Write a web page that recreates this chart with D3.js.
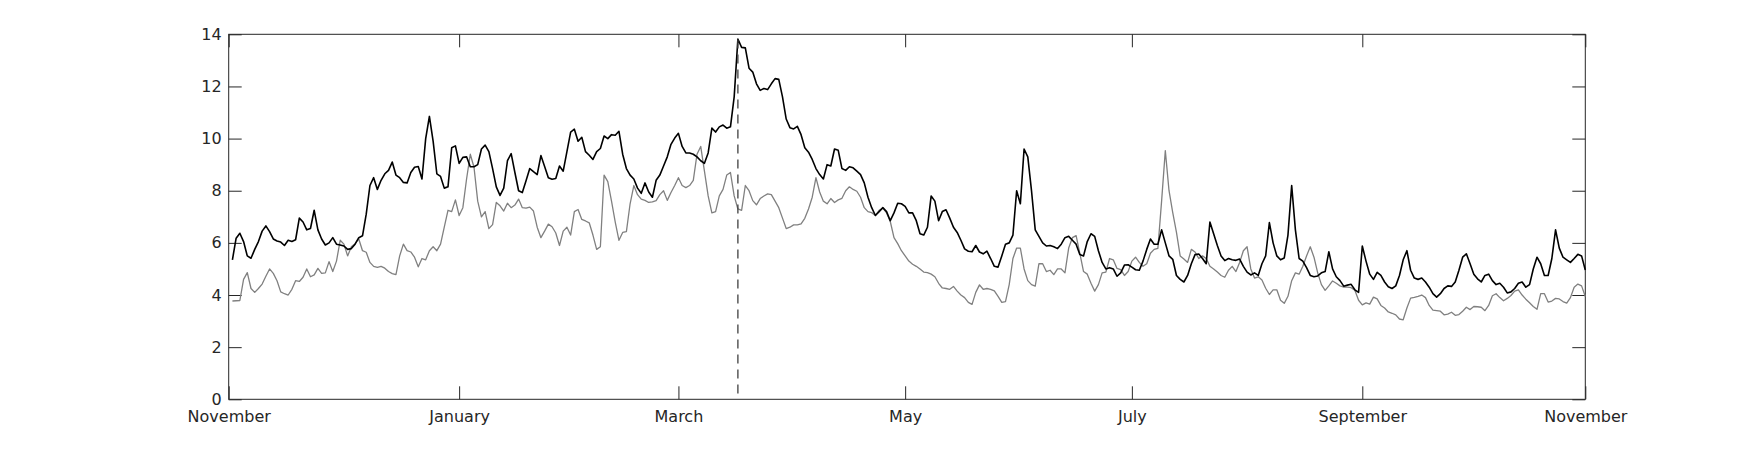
<!DOCTYPE html>
<html>
<head>
<meta charset="utf-8">
<script src="https://cdn.jsdelivr.net/npm/d3@7"></script>
<style>
  body { margin: 0; background: #fff; }
  text { font-family: "DejaVu Sans", sans-serif; }
</style>
</head>
<body>
<div id="chart"></div>
<script>
// daily values, index 1 = 1 November ... 365 = 31 October
var blackSeries = [
  5.35, 6.18, 6.37, 6.05, 5.5, 5.41, 5.75, 6.05, 6.45, 6.65,
  6.43, 6.15, 6.07, 6.03, 5.9, 6.1, 6.05, 6.12, 6.95, 6.8,
  6.5, 6.55, 7.25, 6.5, 6.15, 5.92, 6.0, 6.2, 5.95, 5.92,
  5.88, 5.75, 5.78, 5.95, 6.2, 6.27, 7.1, 8.2, 8.5, 8.05,
  8.4, 8.65, 8.78, 9.1, 8.6, 8.5, 8.32, 8.3, 8.7, 8.9,
  8.93, 8.45, 10.0, 10.85, 9.9, 8.65, 8.55, 8.1, 8.15, 9.65,
  9.72, 9.05, 9.28, 9.3, 8.92, 8.92, 9.0, 9.6, 9.75, 9.5,
  8.85, 8.15, 7.82, 8.1, 9.15, 9.42, 8.7, 8.0, 7.93, 8.38,
  8.85, 8.73, 8.62, 9.35, 8.93, 8.5, 8.44, 8.47, 8.95, 8.75,
  9.5, 10.25, 10.36, 9.9, 10.05, 9.5, 9.36, 9.2, 9.5, 9.62,
  10.1, 10.0, 10.15, 10.13, 10.28, 9.4, 8.85, 8.6, 8.45, 8.1,
  7.9, 8.3, 7.95, 7.75, 8.4, 8.6, 8.95, 9.3, 9.78, 10.02,
  10.2, 9.7, 9.45, 9.45, 9.4, 9.3, 9.15, 9.05, 9.45, 10.4,
  10.25, 10.45, 10.52, 10.4, 10.45, 11.6, 13.82, 13.5, 13.48, 12.7,
  12.55, 12.1, 11.85, 11.92, 11.88, 12.1, 12.3, 12.27, 11.6, 10.75,
  10.42, 10.37, 10.47, 10.15, 9.65, 9.48, 9.2, 8.85, 8.62, 8.45,
  9.0, 8.95, 9.6, 9.55, 8.85, 8.78, 8.92, 8.88, 8.75, 8.62,
  8.3, 7.75, 7.35, 7.05, 7.2, 7.35, 7.2, 6.85, 7.15, 7.52,
  7.5, 7.4, 7.15, 7.15, 6.85, 6.35, 6.3, 6.6, 7.8, 7.6,
  6.85, 7.2, 7.27, 6.95, 6.6, 6.4, 6.1, 5.77, 5.68, 5.66,
  5.9, 5.65, 5.58, 5.68, 5.4, 5.1, 5.07, 5.5, 5.95, 6.0,
  6.3, 8.0, 7.5, 9.6, 9.3, 8.0, 6.5, 6.25, 6.0, 5.88,
  5.9, 5.85, 5.78, 5.95, 6.2, 6.25, 6.1, 5.95, 5.55, 5.5,
  6.05, 6.35, 6.25, 5.7, 5.25, 5.0, 5.05, 5.0, 4.72, 4.85,
  5.15, 5.16, 5.07, 4.97, 4.95, 5.3, 5.75, 6.15, 5.95, 5.95,
  6.5, 6.0, 5.5, 5.37, 4.75, 4.6, 4.5, 4.75, 5.2, 5.55,
  5.57, 5.4, 5.2, 6.8, 6.35, 5.9, 5.5, 5.32, 5.4, 5.35,
  5.33, 5.38, 5.1, 4.88, 4.77, 4.85, 4.75, 5.2, 5.5, 6.78,
  6.0, 5.5, 5.35, 5.42, 6.3, 8.2, 6.5, 5.4, 5.3, 5.05,
  4.75, 4.7, 4.73, 4.85, 4.9, 5.66, 5.0, 4.7, 4.55, 4.34,
  4.38, 4.41, 4.2, 4.1, 5.88, 5.3, 4.8, 4.6, 4.87, 4.75,
  4.5, 4.32, 4.25, 4.35, 4.75, 5.35, 5.7, 4.95, 4.65, 4.6,
  4.65, 4.5, 4.3, 4.05, 3.92, 4.05, 4.25, 4.35, 4.33, 4.5,
  4.95, 5.45, 5.58, 5.2, 4.8, 4.62, 4.5, 4.75, 4.8, 4.55,
  4.4, 4.45, 4.3, 4.08, 4.12, 4.25, 4.45, 4.5, 4.3, 4.4,
  5.0, 5.45, 5.2, 4.75, 4.75, 5.4, 6.5, 5.8, 5.45, 5.35,
  5.25, 5.4, 5.56, 5.5, 4.96
];

var graySeries = [
  3.77, 3.78, 3.79, 4.6, 4.86, 4.25, 4.1, 4.25, 4.42, 4.72,
  5.0, 4.83, 4.55, 4.12, 4.05, 4.0, 4.22, 4.55, 4.52, 4.68,
  5.0, 4.7, 4.77, 5.02, 4.83, 4.85, 5.28, 4.9, 5.3, 6.1,
  5.95, 5.5, 5.85, 5.97, 6.15, 5.7, 5.64, 5.25, 5.1, 5.06,
  5.1, 5.03, 4.9, 4.82, 4.78, 5.5, 5.95, 5.7, 5.65, 5.45,
  5.08, 5.4, 5.35, 5.7, 5.85, 5.7, 5.95, 6.6, 7.25, 7.2,
  7.65, 7.05, 7.35, 8.45, 9.4, 8.9, 7.6, 7.0, 7.2, 6.55,
  6.7, 7.55, 7.42, 7.22, 7.52, 7.35, 7.45, 7.68, 7.35, 7.33,
  7.37, 7.22, 6.6, 6.2, 6.45, 6.72, 6.62, 6.38, 5.9, 6.45,
  6.6, 6.3, 7.2, 7.28, 6.9, 6.84, 6.77, 6.3, 5.75, 5.85,
  8.6, 8.35, 7.6, 6.8, 6.1, 6.4, 6.43, 7.5, 8.2, 7.85,
  7.68, 7.63, 7.55, 7.57, 7.62, 7.85, 8.0, 7.63, 7.93, 8.2,
  8.5, 8.2, 8.12, 8.2, 8.4, 9.4, 9.7, 8.75, 7.8, 7.15,
  7.2, 7.8, 8.05, 8.6, 8.7, 7.8, 7.3, 7.25, 8.2, 8.0,
  7.62, 7.46, 7.7, 7.8, 7.88, 7.85, 7.6, 7.35, 6.95, 6.55,
  6.6, 6.69, 6.69, 6.73, 6.94, 7.3, 7.75, 8.5, 7.95, 7.6,
  7.5, 7.7, 7.55, 7.65, 7.71, 8.0, 8.15, 8.05, 7.98, 7.75,
  7.35, 7.2, 7.16, 7.05, 7.25, 7.33, 7.15, 6.82, 6.2, 5.97,
  5.7, 5.5, 5.3, 5.18, 5.1, 5.0, 4.88, 4.86, 4.8, 4.7,
  4.45, 4.27, 4.25, 4.22, 4.33, 4.15, 4.0, 3.9, 3.72, 3.64,
  4.1, 4.39, 4.22, 4.25, 4.22, 4.16, 3.95, 3.72, 3.75, 4.4,
  5.4, 5.8, 5.8, 5.0, 4.55, 4.4, 4.34, 5.2, 5.2, 4.9,
  4.95, 4.78, 5.0, 5.0, 4.85, 5.8, 6.2, 6.28, 5.6, 4.9,
  4.8, 4.45, 4.15, 4.4, 4.85, 4.88, 5.4, 5.35, 5.02, 4.97,
  4.75, 4.9, 5.3, 5.45, 5.25, 5.1, 5.2, 5.6, 5.75, 5.79,
  7.6, 9.54, 8.0, 7.16, 6.4, 5.5, 5.38, 5.25, 5.75, 5.65,
  5.4, 5.5, 5.4, 5.1, 5.0, 4.88, 4.75, 4.68, 4.95, 5.1,
  4.9, 5.25, 5.7, 5.85, 5.0, 4.65, 4.7, 4.58, 4.26, 4.02,
  4.2, 4.2, 3.8, 3.68, 3.95, 4.55, 4.85, 4.8, 5.1, 5.5,
  5.85, 5.45, 4.85, 4.4, 4.18, 4.35, 4.54, 4.45, 4.35, 4.3,
  4.3, 4.28, 4.18, 3.8, 3.62, 3.7, 3.65, 3.92, 3.85, 3.6,
  3.5, 3.35, 3.3, 3.24, 3.08, 3.05, 3.5, 3.88, 3.91, 3.95,
  4.0, 3.9, 3.6, 3.42, 3.4, 3.38, 3.24, 3.27, 3.34, 3.22,
  3.25, 3.38, 3.53, 3.44, 3.56, 3.55, 3.53, 3.4, 3.6, 3.97,
  4.05, 3.9, 3.78, 3.87, 3.98, 4.15, 4.2, 4.0, 3.84, 3.7,
  3.56, 3.45, 4.05, 4.05, 3.73, 3.77, 3.87, 3.85, 3.75, 3.69,
  3.9, 4.3, 4.42, 4.35, 3.94
];

var monthTicks = [0, 62, 121, 182, 243, 305, 365];
var monthLabels = ["November", "January", "March", "May", "July", "September", "November"];
var yTicks = [0, 2, 4, 6, 8, 10, 12, 14];
var markerDay = 137;

var w = 1753;
var h = 450;
var plotLeft = 228.7, plotRight = 1585.3, plotTop = 34.3, plotBottom = 399.3;
var ink = "#262626";

var svg = d3.select("#chart").append("svg").attr("width", w).attr("height", h);

var x = d3.scaleLinear().domain([0, 365]).range([plotLeft, plotRight]);
var y = d3.scaleLinear().domain([0, 14]).range([plotBottom, plotTop]);

var line = d3.line()
  .x(function (d, i) { return x(i + 1); })
  .y(function (d) { return y(d); });

// axes: ticks pointing inward, mirrored on top and right
var xBottom = d3.axisBottom(x).tickValues(monthTicks)
  .tickFormat(function (d, i) { return monthLabels[i]; })
  .tickSizeInner(-13).tickSizeOuter(0).tickPadding(11);
var xTop = d3.axisTop(x).tickValues(monthTicks).tickFormat("")
  .tickSizeInner(-13).tickSizeOuter(0);
var yLeft = d3.axisLeft(y).tickValues(yTicks).tickFormat(d3.format("d"))
  .tickSizeInner(-13).tickSizeOuter(0).tickPadding(7);
var yRight = d3.axisRight(y).tickValues(yTicks).tickFormat("")
  .tickSizeInner(-13).tickSizeOuter(0);

function styleAxis(g) {
  g.select(".domain").remove();
  g.selectAll(".tick line").attr("stroke", ink).attr("stroke-width", 1);
  g.selectAll(".tick text")
    .attr("fill", ink)
    .attr("font-family", "DejaVu Sans, sans-serif")
    .attr("font-size", "16px");
}

svg.append("g").attr("transform", "translate(0," + plotBottom + ")").call(xBottom).call(styleAxis);
svg.append("g").attr("transform", "translate(0," + plotTop + ")").call(xTop).call(styleAxis);
svg.append("g").attr("transform", "translate(" + plotLeft + ",0)").call(yLeft).call(styleAxis);
svg.append("g").attr("transform", "translate(" + plotRight + ",0)").call(yRight).call(styleAxis);

svg.append("rect")
  .attr("x", plotLeft)
  .attr("y", plotTop)
  .attr("width", plotRight - plotLeft)
  .attr("height", plotBottom - plotTop)
  .attr("fill", "none")
  .attr("stroke", ink)
  .attr("stroke-width", 1);

svg.append("path")
  .datum(graySeries)
  .attr("d", line)
  .attr("fill", "none")
  .attr("stroke", "#808080")
  .attr("stroke-width", 1.3)
  .attr("stroke-linejoin", "round");

svg.append("path")
  .datum(blackSeries)
  .attr("d", line)
  .attr("fill", "none")
  .attr("stroke", "#000")
  .attr("stroke-width", 1.6)
  .attr("stroke-linejoin", "round");

svg.append("line")
  .attr("x1", x(markerDay))
  .attr("x2", x(markerDay))
  .attr("y1", y(13.8))
  .attr("y2", y(0))
  .attr("stroke", "#404040")
  .attr("stroke-width", 1.3)
  .attr("stroke-dasharray", "9,6");
</script>
</body>
</html>
